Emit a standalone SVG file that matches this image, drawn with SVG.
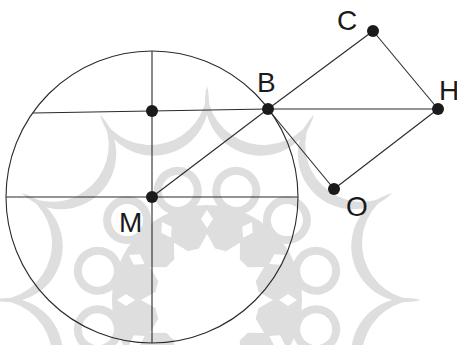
<svg xmlns="http://www.w3.org/2000/svg" xmlns:xlink="http://www.w3.org/1999/xlink" width="457" height="345" viewBox="0 0 457 345">
<style>
.ln{stroke:#2a2a2a;stroke-width:1.1;fill:none}
.dot{fill:#1a1a1a}
.lbl{font-family:"Liberation Sans",Arial,sans-serif;font-size:28px;fill:#1a1a1a}
.wm{fill:#dedede}
.wmr{fill:#fff;stroke:#dedede;stroke-width:8}
.wmw{fill:#fff}
</style>
<defs>
<path id="cr" d="M0,-214 A55,55 0 1 0 107,-185.3 A56.8,56.8 0 0 1 0,-214Z"/>
<circle id="rg" cx="0" cy="-113" r="20"/>
<polygon id="pt" points="-9,-50 0,-66 9,-50"/>
<polygon id="hl" points="0,-90 6,-81 0,-72 -6,-81"/>
</defs>
<rect width="457" height="345" fill="#fff"/>
<g id="watermark" transform="translate(207,300)">
<g class="wm">
<use xlink:href="#cr"/>
<use xlink:href="#cr" transform="rotate(30)"/>
<use xlink:href="#cr" transform="rotate(60)"/>
<use xlink:href="#cr" transform="rotate(90)"/>
<use xlink:href="#cr" transform="rotate(120)"/>
<use xlink:href="#cr" transform="rotate(150)"/>
<use xlink:href="#cr" transform="rotate(180)"/>
<use xlink:href="#cr" transform="rotate(210)"/>
<use xlink:href="#cr" transform="rotate(240)"/>
<use xlink:href="#cr" transform="rotate(270)"/>
<use xlink:href="#cr" transform="rotate(300)"/>
<use xlink:href="#cr" transform="rotate(330)"/>
<circle cx="0" cy="0" r="95"/>
</g>
<g class="wmr">
<use xlink:href="#rg" transform="rotate(15)"/>
<use xlink:href="#rg" transform="rotate(45)"/>
<use xlink:href="#rg" transform="rotate(75)"/>
<use xlink:href="#rg" transform="rotate(105)"/>
<use xlink:href="#rg" transform="rotate(135)"/>
<use xlink:href="#rg" transform="rotate(165)"/>
<use xlink:href="#rg" transform="rotate(195)"/>
<use xlink:href="#rg" transform="rotate(225)"/>
<use xlink:href="#rg" transform="rotate(255)"/>
<use xlink:href="#rg" transform="rotate(285)"/>
<use xlink:href="#rg" transform="rotate(315)"/>
<use xlink:href="#rg" transform="rotate(345)"/>
</g>
<g class="wmw">
<circle cx="0" cy="0" r="52"/>
<use xlink:href="#pt"/>
<use xlink:href="#pt" transform="rotate(30)"/>
<use xlink:href="#pt" transform="rotate(60)"/>
<use xlink:href="#pt" transform="rotate(90)"/>
<use xlink:href="#pt" transform="rotate(120)"/>
<use xlink:href="#pt" transform="rotate(150)"/>
<use xlink:href="#pt" transform="rotate(180)"/>
<use xlink:href="#pt" transform="rotate(210)"/>
<use xlink:href="#pt" transform="rotate(240)"/>
<use xlink:href="#pt" transform="rotate(270)"/>
<use xlink:href="#pt" transform="rotate(300)"/>
<use xlink:href="#pt" transform="rotate(330)"/>
<use xlink:href="#hl"/>
<use xlink:href="#hl" transform="rotate(30)"/>
<use xlink:href="#hl" transform="rotate(60)"/>
<use xlink:href="#hl" transform="rotate(90)"/>
<use xlink:href="#hl" transform="rotate(120)"/>
<use xlink:href="#hl" transform="rotate(150)"/>
<use xlink:href="#hl" transform="rotate(180)"/>
<use xlink:href="#hl" transform="rotate(210)"/>
<use xlink:href="#hl" transform="rotate(240)"/>
<use xlink:href="#hl" transform="rotate(270)"/>
<use xlink:href="#hl" transform="rotate(300)"/>
<use xlink:href="#hl" transform="rotate(330)"/>
</g>
</g>
<g id="connectors" class="ln">
<circle cx="152" cy="197" r="146"/>
<line x1="6" y1="197" x2="298" y2="197"/>
<line x1="152" y1="51" x2="152" y2="343"/>
<line x1="33" y1="113" x2="268" y2="109"/>
<line x1="152" y1="197" x2="268" y2="109"/>
<line x1="268" y1="109" x2="373" y2="31"/>
<line x1="373" y1="31" x2="438" y2="109"/>
<line x1="268" y1="109" x2="438" y2="109"/>
<line x1="438" y1="109" x2="334" y2="189"/>
<line x1="334" y1="189" x2="268" y2="109"/>
</g>
<g id="node-mid"><circle class="dot" cx="152" cy="111" r="6"/></g>
<g id="node-M"><circle class="dot" cx="152" cy="197" r="6"/><text class="lbl" x="119" y="232">M</text></g>
<g id="node-B"><circle class="dot" cx="268" cy="109" r="6"/><text class="lbl" x="257" y="92">B</text></g>
<g id="node-C"><circle class="dot" cx="373" cy="31" r="6"/><text class="lbl" x="337" y="30">C</text></g>
<g id="node-H"><circle class="dot" cx="438" cy="109" r="6"/><text class="lbl" x="439" y="100">H</text></g>
<g id="node-O"><circle class="dot" cx="334" cy="189" r="6"/><text class="lbl" x="346" y="216">O</text></g>
</svg>
